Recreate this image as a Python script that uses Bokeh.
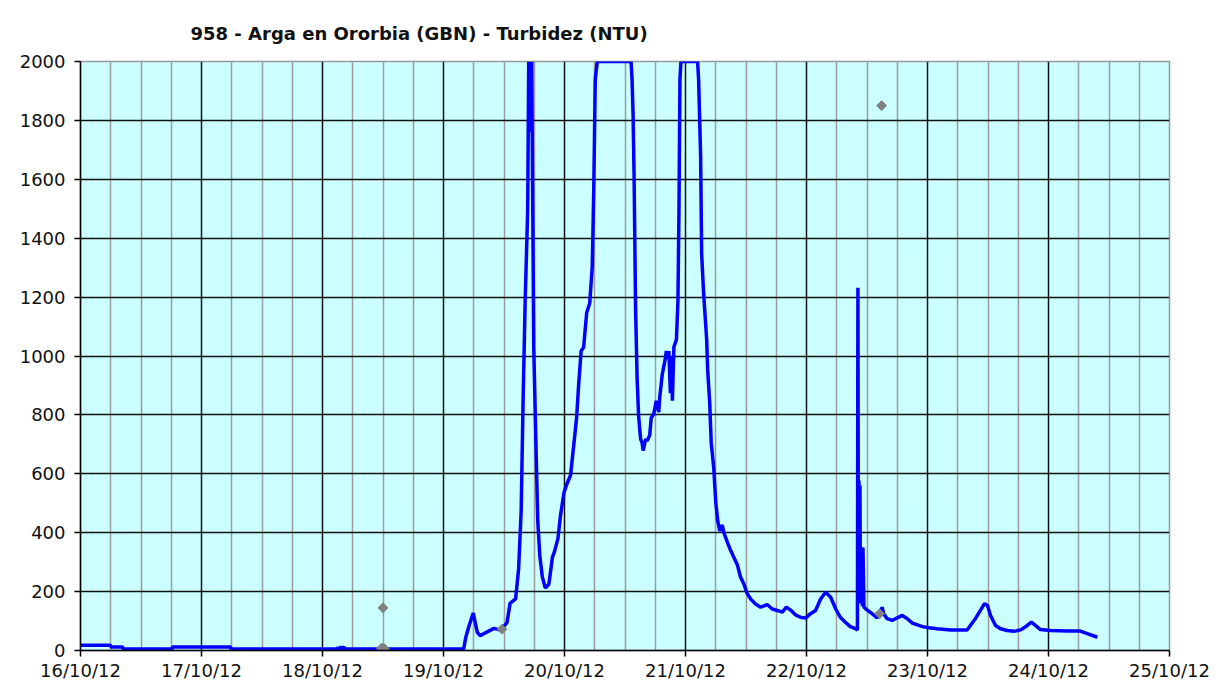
from bokeh.plotting import figure
from bokeh.models import FixedTicker, Range1d
from bokeh.embed import file_html
from bokeh.resources import INLINE

# Time in hours since 16/10/12 00:00
hours = [
    0, 6.0, 6.0, 8.4, 8.4, 18.2, 18.2, 29.8, 29.8,
    51.0, 51.1, 51.2, 51.7, 51.8, 52.3, 52.4,
    76.0, 76.4, 77.0, 77.9, 78.7, 79.3, 80.3, 82.0, 83.3, 84.6, 85.2, 86.3,
    86.9, 87.4, 87.8, 88.2, 88.7, 88.9, 89.0, 89.1, 89.2, 89.3, 89.4, 89.5,
    89.6, 89.9, 90.4, 90.7, 91.1, 91.6, 92.2, 92.9, 93.6, 94.0, 94.7, 95.2,
    95.9, 96.4, 97.2, 97.8, 98.4, 98.8, 99.3, 99.8, 100.4, 101.0, 101.5,
    101.8, 102.1, 102.5, 109.2, 109.4, 109.6, 109.8, 110.1, 110.4, 110.7,
    111.1, 111.4, 111.6, 112.1, 112.4, 112.9, 113.2, 113.7, 114.2, 114.7,
    114.9, 115.4, 115.7, 116.0, 116.2, 116.4, 116.7, 117.0, 117.2, 117.4,
    117.7, 118.2, 118.5, 118.7, 118.9, 119.1, 122.4, 122.6, 123.0, 123.2,
    123.6, 124.2, 124.4, 124.8, 125.1, 125.6, 126.0, 126.4, 126.8, 127.3,
    127.6, 128.3, 128.9, 129.6, 130.3, 130.9, 131.6, 132.2, 132.9, 133.9,
    134.9, 136.2, 137.2, 138.2, 139.2, 140.0, 140.8, 141.8, 142.8, 143.8,
    144.8, 145.8, 146.8, 147.8, 148.8, 149.8, 150.7, 151.7, 152.7, 153.7,
    154.1, 154.2, 154.3, 154.4, 154.5, 154.6, 154.7, 154.8, 154.9, 155.0,
    155.1, 155.2, 155.4, 156.0, 157.0, 158.0, 158.7, 159.0, 159.3, 160.0,
    161.0, 162.0, 163.0, 164.0, 165.0, 166.0, 167.0, 168.3, 169.9, 172.6,
    175.9, 176.5, 177.5, 178.5, 179.3, 179.9, 180.5, 181.5, 182.5, 183.8,
    185.1, 186.5, 187.8, 188.6, 189.4, 190.4, 192.4, 195.7, 198.3, 199.7,
    201.7,
]
turbidity = [
    18, 18, 12, 12, 5, 5, 12, 12, 5,
    5, 12, 5, 12, 5, 12, 5,
    5, 43, 80, 127, 62, 50, 60, 75, 69, 95, 160, 175,
    277, 471, 861, 1186, 1497, 2000, 1780, 2000, 1760, 2000, 1800, 2000,
    1757, 1030, 653, 439, 322, 250, 212, 225, 316, 335, 380, 458,
    536, 562, 595, 692, 790, 900, 1017, 1030, 1147, 1179, 1303,
    1562, 1939, 2000, 2000, 1939, 1822, 1614, 1160, 926, 796,
    718, 705, 679, 718, 712, 731, 790, 803, 848, 809,
    861, 939, 965, 991, 1017, 990, 1017, 874, 1000, 848,
    1030, 1056, 1186, 1484, 1939, 2000, 2000, 1939, 1679, 1348,
    1212, 1056, 952, 842, 705, 621, 504, 439, 406, 426,
    400, 368, 342, 316, 290, 250, 225, 195, 175, 158,
    147, 156, 141, 136, 130, 147, 138, 121, 113, 110,
    125, 136, 175, 198, 181, 141, 113, 96, 81, 74,
    70, 1232, 160, 577, 160, 560, 170, 351, 160, 340,
    150, 350, 147, 138, 125, 111, 130, 147, 125, 108,
    102, 111, 119, 108, 93, 87, 81, 77, 74, 70,
    70, 85, 108, 136, 159, 153, 119, 85, 74, 68,
    65, 70, 85, 96, 85, 71, 68, 66, 66, 57,
    45,
]

# Gray sample points
sample_hours = [59.7, 60.1, 60.3, 60.0, 83.6, 158.5, 158.9]
sample_values = [8, 8, 5, 145, 72, 125, 1850]

tick_hours = [0, 24, 48, 72, 96, 120, 144, 168, 192, 216]
tick_labels = ["16/10/12", "17/10/12", "18/10/12", "19/10/12", "20/10/12",
               "21/10/12", "22/10/12", "23/10/12", "24/10/12", "25/10/12"]
y_ticks = [0, 200, 400, 600, 800, 1000, 1200, 1400, 1600, 1800, 2000]

minor_hours = [h for h in range(0, 217, 6) if h % 24 != 0]

p = figure(width=1220, height=683, x_range=Range1d(0, 216), y_range=Range1d(0, 2000),
           output_backend="svg", toolbar_location=None,
           min_border_left=80, min_border_right=51, min_border_top=61, min_border_bottom=33)

p.background_fill_color = "#CCFFFF"
p.border_fill_color = "white"
p.outline_line_color = "#999999"
p.outline_line_width = 1.5

xt = FixedTicker(ticks=tick_hours, minor_ticks=minor_hours)
yt = FixedTicker(ticks=y_ticks)
p.xaxis.ticker = xt
p.yaxis.ticker = yt
p.xgrid.ticker = xt
p.ygrid.ticker = yt

p.xgrid.grid_line_color = "#111111"
p.xgrid.grid_line_width = 1.5
p.xgrid.minor_grid_line_color = "#9c9c9c"
p.xgrid.minor_grid_line_width = 1.5
p.ygrid.grid_line_color = "#111111"
p.ygrid.grid_line_width = 1.5

p.xaxis.major_label_overrides = {h: l for h, l in zip(tick_hours, tick_labels)}

for ax in (p.xaxis, p.yaxis):
    ax.axis_line_color = "black"
    ax.axis_line_width = 1.5
    ax.major_tick_line_color = "black"
    ax.major_tick_line_width = 1.5
    ax.major_tick_out = 6
    ax.major_tick_in = 0
    ax.minor_tick_line_color = None
    ax.major_label_text_font = "DejaVu Sans"
    ax.major_label_text_font_size = "18px"
    ax.major_label_text_color = "#111111"
p.yaxis.major_label_standoff = 9
p.xaxis.major_label_standoff = 3

p.line(hours, turbidity, line_color="#0000FF", line_width=3.5)
p.scatter(sample_hours, sample_values, marker="square", angle=0.785, size=7,
          fill_color="#808080", line_color="#808080")

p.title.text = "958 - Arga en Ororbia (GBN) - Turbidez (NTU)"
p.title.text_font = "DejaVu Sans"
p.title.text_font_size = "18px"
p.title.text_font_style = "bold"
p.title.text_color = "#111111"
p.title.align = "left"
p.title.offset = 110
p.title.standoff = 36

open("out.html", "w").write(file_html(p, INLINE, title="958 - Arga en Ororbia"))
